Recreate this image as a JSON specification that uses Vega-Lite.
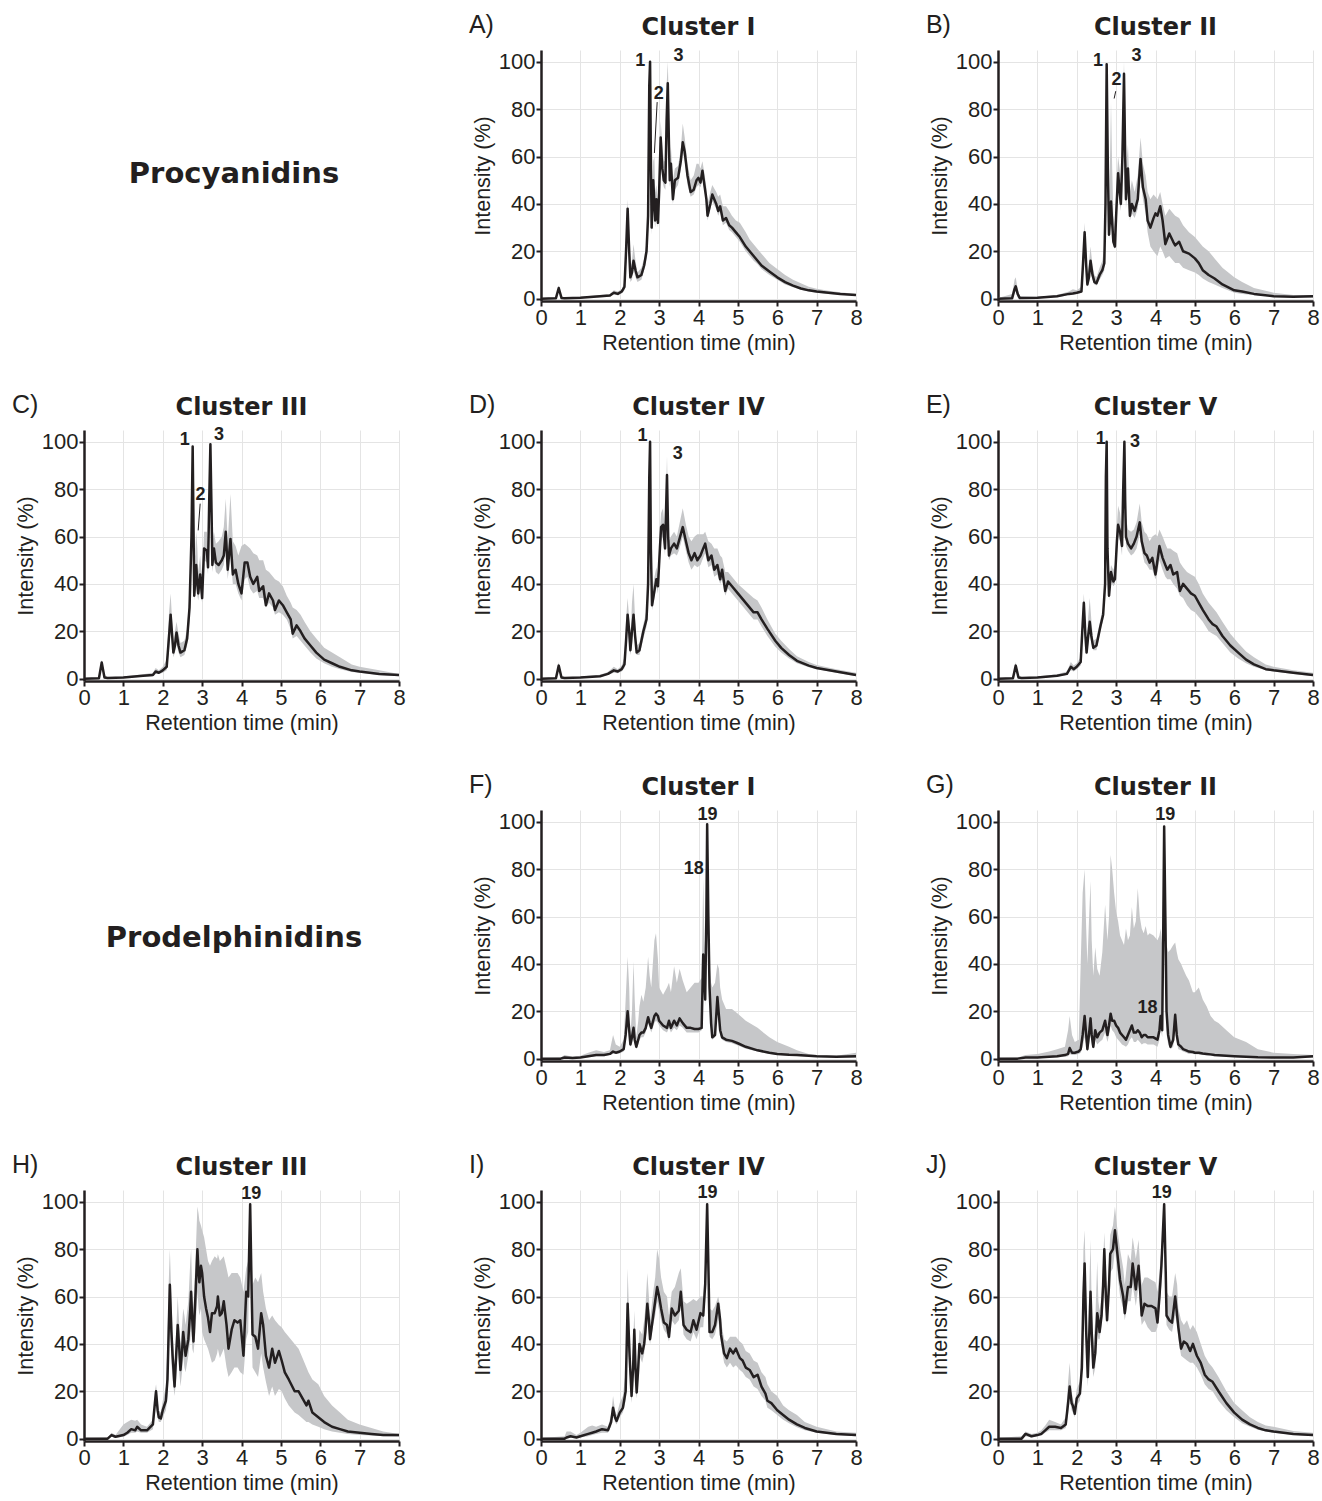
{
"$schema":"https://vega.github.io/schema/vega-lite/v6.json",
"background":"white",
"padding":{"left":11,"top":12,"right":5,"bottom":2},
"config":{
 "view":{"stroke":null},
 "axis":{"domainColor":"#231f20","domainWidth":2.5,"tickColor":"#231f20","tickWidth":2,"tickSize":5,"labelFont":"Liberation Sans","labelFontSize":22,"labelColor":"#231f20","labelPadding":1,"labelOverlap":false,"titleFont":"Liberation Sans","titleFontSize":21.5,"titleFontWeight":"normal","titleColor":"#231f20","titlePadding":4,"gridColor":"#e4e4e4","gridWidth":1},
 "axisX":{"tickCount":9,"labelOverlap":false,"labelFlush":false},
 "axisY":{"tickCount":6}
},
"datasets":{
"A":[{"t":0,"m":0,"l":0,"h":0.3},{"t":0.38,"m":0.2,"l":0,"h":0.6},{"t":0.45,"m":4.5,"l":3.5,"h":5.5},{"t":0.52,"m":0.3,"l":0,"h":1},{"t":0.6,"m":0.2,"l":0,"h":0.6},{"t":1,"m":0.4,"l":0.2,"h":0.8},{"t":1.5,"m":1,"l":0.6,"h":1.5},{"t":1.75,"m":1.3,"l":0.8,"h":2},{"t":1.85,"m":2.5,"l":1.8,"h":3.5},{"t":1.95,"m":2,"l":1.5,"h":3},{"t":2.05,"m":3,"l":2.2,"h":4},{"t":2.12,"m":5,"l":3.5,"h":7},{"t":2.16,"m":20,"l":14,"h":26},{"t":2.2,"m":38,"l":30,"h":42},{"t":2.24,"m":20,"l":15,"h":25},{"t":2.27,"m":9,"l":7,"h":12},{"t":2.31,"m":11,"l":8,"h":16},{"t":2.35,"m":16,"l":12,"h":23},{"t":2.4,"m":12,"l":9,"h":16},{"t":2.45,"m":9,"l":7,"h":11},{"t":2.55,"m":10,"l":8,"h":13},{"t":2.62,"m":14,"l":12,"h":17},{"t":2.68,"m":20,"l":17,"h":24},{"t":2.72,"m":35,"l":28,"h":45},{"t":2.75,"m":90,"l":80,"h":96},{"t":2.77,"m":100,"l":98,"h":100},{"t":2.79,"m":60,"l":45,"h":70},{"t":2.81,"m":30,"l":27,"h":40},{"t":2.85,"m":50,"l":42,"h":58},{"t":2.88,"m":40,"l":33,"h":60},{"t":2.9,"m":33,"l":30,"h":45},{"t":2.93,"m":42,"l":36,"h":48},{"t":2.97,"m":32,"l":30,"h":40},{"t":3,"m":45,"l":38,"h":55},{"t":3.04,"m":68,"l":62,"h":75},{"t":3.08,"m":55,"l":50,"h":65},{"t":3.12,"m":50,"l":47,"h":58},{"t":3.16,"m":49,"l":46,"h":58},{"t":3.19,"m":75,"l":68,"h":90},{"t":3.22,"m":91,"l":85,"h":100},{"t":3.25,"m":65,"l":58,"h":80},{"t":3.27,"m":50,"l":47,"h":58},{"t":3.3,"m":57,"l":52,"h":64},{"t":3.35,"m":42,"l":40,"h":50},{"t":3.4,"m":50,"l":46,"h":55},{"t":3.48,"m":51,"l":48,"h":56},{"t":3.55,"m":58,"l":54,"h":63},{"t":3.6,"m":66,"l":62,"h":74},{"t":3.65,"m":62,"l":58,"h":68},{"t":3.72,"m":52,"l":48,"h":57},{"t":3.8,"m":45,"l":43,"h":50},{"t":3.88,"m":46,"l":44,"h":52},{"t":3.95,"m":50,"l":47,"h":57},{"t":4,"m":51,"l":48,"h":57},{"t":4.05,"m":49,"l":47,"h":55},{"t":4.1,"m":54,"l":50,"h":58},{"t":4.15,"m":48,"l":46,"h":53},{"t":4.2,"m":42,"l":39,"h":47},{"t":4.23,"m":35,"l":33,"h":40},{"t":4.3,"m":40,"l":38,"h":45},{"t":4.35,"m":44,"l":41,"h":48},{"t":4.45,"m":40,"l":38,"h":45},{"t":4.5,"m":37,"l":35,"h":43},{"t":4.55,"m":39,"l":37,"h":44},{"t":4.62,"m":33,"l":31,"h":39},{"t":4.7,"m":34,"l":32,"h":39},{"t":4.78,"m":31,"l":29,"h":37},{"t":4.85,"m":30,"l":28,"h":35},{"t":4.95,"m":28,"l":26,"h":33},{"t":5.05,"m":26,"l":24,"h":32},{"t":5.2,"m":22,"l":20,"h":28},{"t":5.3,"m":20,"l":18,"h":25},{"t":5.4,"m":18,"l":16,"h":23},{"t":5.5,"m":16,"l":14.5,"h":21},{"t":5.6,"m":14,"l":12.5,"h":19},{"t":5.8,"m":11.5,"l":10,"h":15},{"t":6,"m":9,"l":8,"h":12.5},{"t":6.2,"m":7,"l":6,"h":10},{"t":6.4,"m":5.5,"l":4.8,"h":8},{"t":6.6,"m":4.3,"l":3.8,"h":6.5},{"t":6.8,"m":3.5,"l":3,"h":5},{"t":7,"m":3,"l":2.5,"h":4.2},{"t":7.3,"m":2.5,"l":2,"h":3.3},{"t":7.6,"m":2,"l":1.6,"h":2.7},{"t":8,"m":1.5,"l":1.2,"h":2}],
"B":[{"t":0,"m":0,"l":0,"h":0.3},{"t":0.36,"m":0.2,"l":0,"h":2},{"t":0.42,"m":4,"l":2,"h":8},{"t":0.45,"m":5.2,"l":3,"h":9},{"t":0.5,"m":2,"l":0.5,"h":4},{"t":0.55,"m":0.3,"l":0,"h":1},{"t":1,"m":0.4,"l":0.2,"h":0.8},{"t":1.5,"m":1,"l":0.6,"h":1.5},{"t":1.8,"m":2,"l":1.5,"h":3},{"t":1.9,"m":2.2,"l":1.7,"h":4},{"t":2,"m":2.5,"l":2,"h":3.5},{"t":2.12,"m":3,"l":2.5,"h":5},{"t":2.16,"m":15,"l":10,"h":20},{"t":2.2,"m":28,"l":24,"h":32},{"t":2.24,"m":14,"l":10,"h":18},{"t":2.27,"m":6,"l":5,"h":9},{"t":2.31,"m":9,"l":7,"h":15},{"t":2.35,"m":16,"l":12,"h":22},{"t":2.4,"m":10,"l":8,"h":14},{"t":2.45,"m":7,"l":6,"h":10},{"t":2.5,"m":6.5,"l":5.5,"h":9},{"t":2.58,"m":10,"l":8,"h":13},{"t":2.65,"m":12,"l":10,"h":16},{"t":2.7,"m":15,"l":12,"h":22},{"t":2.73,"m":40,"l":30,"h":55},{"t":2.76,"m":99,"l":95,"h":100},{"t":2.79,"m":55,"l":40,"h":70},{"t":2.82,"m":27,"l":25,"h":35},{"t":2.87,"m":41,"l":35,"h":83},{"t":2.9,"m":32,"l":28,"h":55},{"t":2.93,"m":24,"l":22,"h":35},{"t":2.97,"m":22,"l":21,"h":30},{"t":3,"m":35,"l":30,"h":45},{"t":3.05,"m":53,"l":48,"h":60},{"t":3.09,"m":45,"l":40,"h":55},{"t":3.12,"m":40,"l":37,"h":50},{"t":3.16,"m":60,"l":52,"h":75},{"t":3.2,"m":95,"l":88,"h":100},{"t":3.23,"m":60,"l":50,"h":75},{"t":3.25,"m":42,"l":38,"h":55},{"t":3.3,"m":55,"l":48,"h":65},{"t":3.35,"m":35,"l":33,"h":45},{"t":3.4,"m":40,"l":36,"h":50},{"t":3.47,"m":37,"l":34,"h":45},{"t":3.55,"m":42,"l":38,"h":52},{"t":3.62,"m":59,"l":52,"h":68},{"t":3.68,"m":47,"l":42,"h":57},{"t":3.75,"m":42,"l":36,"h":52},{"t":3.8,"m":33,"l":28,"h":45},{"t":3.87,"m":30,"l":22,"h":42},{"t":3.95,"m":34,"l":20,"h":44},{"t":4,"m":36,"l":19,"h":43},{"t":4.05,"m":35,"l":18,"h":42},{"t":4.12,"m":39,"l":22,"h":45},{"t":4.18,"m":33,"l":20,"h":40},{"t":4.25,"m":23,"l":17,"h":35},{"t":4.35,"m":27.5,"l":18,"h":38},{"t":4.45,"m":24,"l":16,"h":36},{"t":4.5,"m":22.5,"l":15,"h":35},{"t":4.6,"m":24,"l":15,"h":34},{"t":4.7,"m":20,"l":13,"h":31},{"t":4.85,"m":19,"l":12,"h":28},{"t":5,"m":17,"l":11,"h":26},{"t":5.1,"m":15,"l":10,"h":24},{"t":5.2,"m":12,"l":8.5,"h":22},{"t":5.35,"m":10,"l":7,"h":20},{"t":5.5,"m":8.5,"l":6,"h":17},{"t":5.7,"m":6,"l":4.5,"h":13},{"t":6,"m":3.5,"l":2.5,"h":9},{"t":6.2,"m":3,"l":2,"h":7},{"t":6.5,"m":2,"l":1.5,"h":4.5},{"t":7,"m":1,"l":0.8,"h":2.5},{"t":7.5,"m":0.8,"l":0.6,"h":1.5},{"t":8,"m":1,"l":0.5,"h":1.5}],
"C":[{"t":0,"m":0,"l":0,"h":0.3},{"t":0.38,"m":0.2,"l":0,"h":0.5},{"t":0.45,"m":6.8,"l":5,"h":8},{"t":0.52,"m":0.5,"l":0,"h":1.5},{"t":0.6,"m":0.3,"l":0,"h":0.6},{"t":1,"m":0.5,"l":0.3,"h":0.9},{"t":1.5,"m":1.2,"l":0.8,"h":1.8},{"t":1.75,"m":1.5,"l":1,"h":2.5},{"t":1.82,"m":3,"l":2,"h":4.5},{"t":1.9,"m":2.5,"l":2,"h":3.5},{"t":2,"m":3.5,"l":2.5,"h":5},{"t":2.1,"m":5,"l":3.5,"h":8},{"t":2.16,"m":18,"l":12,"h":28},{"t":2.2,"m":27,"l":20,"h":36},{"t":2.24,"m":18,"l":13,"h":24},{"t":2.27,"m":11,"l":9,"h":15},{"t":2.31,"m":14,"l":11,"h":20},{"t":2.35,"m":19.5,"l":15,"h":24},{"t":2.4,"m":14,"l":11,"h":19},{"t":2.45,"m":11,"l":9,"h":15},{"t":2.55,"m":12,"l":10,"h":16},{"t":2.62,"m":17,"l":14,"h":21},{"t":2.68,"m":30,"l":24,"h":36},{"t":2.73,"m":60,"l":50,"h":75},{"t":2.76,"m":98,"l":95,"h":100},{"t":2.79,"m":50,"l":40,"h":65},{"t":2.8,"m":35,"l":33,"h":45},{"t":2.85,"m":48,"l":40,"h":62},{"t":2.88,"m":40,"l":35,"h":55},{"t":2.9,"m":36,"l":33,"h":45},{"t":2.95,"m":44,"l":38,"h":52},{"t":3,"m":34,"l":32,"h":42},{"t":3.05,"m":55,"l":50,"h":62},{"t":3.12,"m":54,"l":49,"h":62},{"t":3.15,"m":47,"l":44,"h":55},{"t":3.18,"m":75,"l":65,"h":90},{"t":3.21,"m":99,"l":97,"h":100},{"t":3.24,"m":70,"l":55,"h":80},{"t":3.26,"m":48,"l":45,"h":58},{"t":3.3,"m":55,"l":50,"h":62},{"t":3.35,"m":49,"l":45,"h":57},{"t":3.42,"m":48,"l":44,"h":58},{"t":3.5,"m":50,"l":46,"h":60},{"t":3.55,"m":52,"l":48,"h":64},{"t":3.6,"m":62,"l":55,"h":76},{"t":3.65,"m":46,"l":42,"h":58},{"t":3.72,"m":59,"l":52,"h":78},{"t":3.78,"m":44,"l":40,"h":58},{"t":3.85,"m":46,"l":40,"h":56},{"t":3.92,"m":40,"l":36,"h":52},{"t":4,"m":36,"l":33,"h":56},{"t":4.08,"m":49,"l":42,"h":57},{"t":4.15,"m":49,"l":43,"h":56},{"t":4.22,"m":43,"l":38,"h":55},{"t":4.3,"m":40,"l":36,"h":53},{"t":4.4,"m":43,"l":37,"h":52},{"t":4.45,"m":37,"l":34,"h":50},{"t":4.55,"m":39,"l":34,"h":50},{"t":4.62,"m":31,"l":30,"h":46},{"t":4.7,"m":36,"l":32,"h":45},{"t":4.8,"m":33,"l":30,"h":43},{"t":4.85,"m":29,"l":27,"h":42},{"t":4.95,"m":33,"l":28,"h":41},{"t":5.05,"m":31,"l":27,"h":39},{"t":5.15,"m":28,"l":25,"h":35},{"t":5.25,"m":25,"l":21,"h":32},{"t":5.3,"m":19,"l":17,"h":30},{"t":5.4,"m":22.5,"l":18,"h":29},{"t":5.5,"m":20,"l":16,"h":27},{"t":5.6,"m":17,"l":14,"h":24},{"t":5.75,"m":14,"l":11,"h":20},{"t":5.9,"m":11,"l":8.5,"h":17},{"t":6.1,"m":8,"l":6.5,"h":13},{"t":6.3,"m":6.5,"l":5,"h":11},{"t":6.5,"m":5,"l":4,"h":9},{"t":6.8,"m":3.5,"l":2.8,"h":6},{"t":7,"m":3,"l":2.5,"h":5},{"t":7.5,"m":2,"l":1.5,"h":3.5},{"t":8,"m":1.5,"l":1,"h":2}],
"D":[{"t":0,"m":0,"l":0,"h":0.3},{"t":0.38,"m":0.2,"l":0,"h":0.5},{"t":0.45,"m":5.5,"l":4,"h":7},{"t":0.52,"m":0.5,"l":0,"h":1.2},{"t":0.6,"m":0.3,"l":0,"h":0.6},{"t":1,"m":0.5,"l":0.3,"h":0.9},{"t":1.5,"m":1,"l":0.7,"h":1.6},{"t":1.7,"m":2,"l":1.5,"h":2.8},{"t":1.85,"m":3.5,"l":2.5,"h":5},{"t":1.95,"m":3,"l":2.3,"h":4},{"t":2.05,"m":4,"l":3,"h":5.5},{"t":2.12,"m":6,"l":4.5,"h":9},{"t":2.16,"m":16,"l":12,"h":25},{"t":2.2,"m":27,"l":22,"h":34},{"t":2.24,"m":20,"l":14,"h":25},{"t":2.27,"m":12,"l":10,"h":16},{"t":2.31,"m":20,"l":14,"h":32},{"t":2.35,"m":27,"l":22,"h":40},{"t":2.39,"m":18,"l":14,"h":25},{"t":2.43,"m":11,"l":10,"h":14},{"t":2.5,"m":12,"l":10,"h":15},{"t":2.6,"m":20,"l":17,"h":23},{"t":2.68,"m":25,"l":22,"h":29},{"t":2.72,"m":40,"l":33,"h":48},{"t":2.75,"m":85,"l":75,"h":95},{"t":2.77,"m":100,"l":98,"h":100},{"t":2.79,"m":55,"l":45,"h":70},{"t":2.82,"m":31,"l":29,"h":36},{"t":2.87,"m":36,"l":33,"h":42},{"t":2.93,"m":42,"l":39,"h":47},{"t":2.97,"m":39,"l":36,"h":44},{"t":3.02,"m":55,"l":50,"h":62},{"t":3.05,"m":64,"l":58,"h":70},{"t":3.1,"m":65,"l":60,"h":72},{"t":3.15,"m":55,"l":52,"h":62},{"t":3.2,"m":86,"l":80,"h":94},{"t":3.23,"m":60,"l":55,"h":70},{"t":3.25,"m":52,"l":50,"h":58},{"t":3.3,"m":55,"l":52,"h":60},{"t":3.38,"m":57,"l":53,"h":62},{"t":3.45,"m":55,"l":52,"h":60},{"t":3.5,"m":58,"l":54,"h":64},{"t":3.6,"m":64,"l":60,"h":72},{"t":3.68,"m":58,"l":54,"h":65},{"t":3.75,"m":53,"l":49,"h":60},{"t":3.82,"m":50,"l":46,"h":58},{"t":3.9,"m":53,"l":48,"h":60},{"t":3.97,"m":50,"l":47,"h":61},{"t":4.05,"m":52,"l":48,"h":61},{"t":4.12,"m":55,"l":51,"h":61},{"t":4.17,"m":57,"l":53,"h":62},{"t":4.25,"m":50,"l":47,"h":58},{"t":4.33,"m":52,"l":48,"h":57},{"t":4.4,"m":46,"l":43,"h":55},{"t":4.48,"m":48,"l":44,"h":55},{"t":4.55,"m":42,"l":40,"h":52},{"t":4.6,"m":46,"l":42,"h":51},{"t":4.68,"m":37,"l":35,"h":45},{"t":4.75,"m":41,"l":38,"h":45},{"t":4.85,"m":39,"l":36,"h":43},{"t":5,"m":36,"l":33,"h":40},{"t":5.2,"m":32,"l":29,"h":37},{"t":5.4,"m":28,"l":25,"h":34},{"t":5.5,"m":28,"l":25,"h":33},{"t":5.6,"m":25,"l":22,"h":30},{"t":5.75,"m":21,"l":18,"h":25},{"t":5.95,"m":16,"l":13.5,"h":19},{"t":6.1,"m":13,"l":11,"h":16},{"t":6.3,"m":10,"l":8.5,"h":12.5},{"t":6.5,"m":7.5,"l":6.5,"h":9.5},{"t":6.8,"m":5.5,"l":4.8,"h":7},{"t":7,"m":4.5,"l":4,"h":5.8},{"t":7.5,"m":3,"l":2.5,"h":4},{"t":8,"m":1.5,"l":1,"h":2.5}],
"E":[{"t":0,"m":0,"l":0,"h":0.3},{"t":0.38,"m":0.2,"l":0,"h":0.5},{"t":0.45,"m":5.5,"l":4,"h":7},{"t":0.52,"m":0.5,"l":0,"h":1.2},{"t":0.6,"m":0.3,"l":0,"h":0.6},{"t":1,"m":0.5,"l":0.3,"h":0.9},{"t":1.5,"m":1.2,"l":0.8,"h":1.8},{"t":1.75,"m":2,"l":1.5,"h":3},{"t":1.85,"m":5,"l":3.5,"h":7},{"t":1.92,"m":4,"l":3,"h":5.5},{"t":2,"m":5,"l":4,"h":6.5},{"t":2.1,"m":7,"l":5.5,"h":9},{"t":2.14,"m":20,"l":15,"h":25},{"t":2.18,"m":32,"l":28,"h":36},{"t":2.22,"m":18,"l":14,"h":24},{"t":2.25,"m":11,"l":10,"h":14},{"t":2.29,"m":18,"l":14,"h":26},{"t":2.33,"m":24,"l":20,"h":34},{"t":2.37,"m":18,"l":15,"h":25},{"t":2.42,"m":13,"l":12,"h":16},{"t":2.5,"m":14,"l":12,"h":17},{"t":2.6,"m":22,"l":20,"h":25},{"t":2.67,"m":27,"l":25,"h":30},{"t":2.72,"m":40,"l":36,"h":45},{"t":2.74,"m":85,"l":78,"h":95},{"t":2.76,"m":100,"l":98,"h":100},{"t":2.78,"m":55,"l":45,"h":70},{"t":2.82,"m":35,"l":33,"h":40},{"t":2.87,"m":45,"l":41,"h":48},{"t":2.93,"m":41,"l":39,"h":46},{"t":2.97,"m":42,"l":40,"h":48},{"t":3.02,"m":58,"l":52,"h":65},{"t":3.05,"m":65,"l":60,"h":73},{"t":3.1,"m":62,"l":58,"h":70},{"t":3.15,"m":56,"l":52,"h":62},{"t":3.18,"m":80,"l":72,"h":90},{"t":3.21,"m":100,"l":96,"h":100},{"t":3.23,"m":75,"l":65,"h":85},{"t":3.25,"m":60,"l":56,"h":68},{"t":3.3,"m":57,"l":54,"h":63},{"t":3.38,"m":55,"l":52,"h":62},{"t":3.45,"m":57,"l":53,"h":63},{"t":3.52,"m":60,"l":55,"h":66},{"t":3.6,"m":66,"l":61,"h":74},{"t":3.65,"m":58,"l":54,"h":66},{"t":3.72,"m":53,"l":49,"h":62},{"t":3.78,"m":52,"l":48,"h":61},{"t":3.85,"m":49,"l":46,"h":58},{"t":3.92,"m":51,"l":46,"h":60},{"t":4,"m":44,"l":42,"h":61},{"t":4.05,"m":50,"l":45,"h":60},{"t":4.1,"m":56,"l":50,"h":63},{"t":4.18,"m":51,"l":46,"h":60},{"t":4.25,"m":48,"l":43,"h":57},{"t":4.3,"m":46,"l":42,"h":55},{"t":4.38,"m":48,"l":42,"h":55},{"t":4.45,"m":44,"l":40,"h":54},{"t":4.55,"m":45,"l":38,"h":53},{"t":4.62,"m":37,"l":35,"h":49},{"t":4.7,"m":40,"l":34,"h":47},{"t":4.8,"m":38,"l":31,"h":45},{"t":4.9,"m":36,"l":29,"h":44},{"t":5,"m":35,"l":28,"h":43},{"t":5.1,"m":32,"l":26,"h":40},{"t":5.2,"m":29,"l":24,"h":36},{"t":5.35,"m":25,"l":20,"h":32},{"t":5.45,"m":23,"l":19,"h":30},{"t":5.55,"m":22,"l":18,"h":28},{"t":5.7,"m":18,"l":15,"h":24},{"t":5.9,"m":14,"l":11,"h":19},{"t":6.1,"m":11,"l":8.5,"h":15},{"t":6.3,"m":8,"l":6.5,"h":11.5},{"t":6.5,"m":6,"l":5,"h":9},{"t":6.8,"m":4,"l":3.5,"h":6},{"t":7,"m":3.5,"l":3,"h":5},{"t":7.5,"m":2.5,"l":2,"h":3.5},{"t":8,"m":1.5,"l":1,"h":2.5}],
"F":[{"t":0,"m":0,"l":0,"h":0.3},{"t":0.5,"m":0,"l":0,"h":0.5},{"t":0.6,"m":0.5,"l":0.2,"h":1.5},{"t":0.8,"m":0.3,"l":0.1,"h":0.8},{"t":1,"m":0.5,"l":0.3,"h":1.2},{"t":1.2,"m":1,"l":0.6,"h":2.5},{"t":1.4,"m":1.5,"l":1,"h":3.5},{"t":1.6,"m":1.5,"l":1,"h":2.8},{"t":1.75,"m":2,"l":1.5,"h":3.5},{"t":1.83,"m":3,"l":2,"h":10},{"t":1.9,"m":2.5,"l":2,"h":6},{"t":2,"m":3,"l":2.2,"h":5},{"t":2.1,"m":4,"l":3,"h":8},{"t":2.15,"m":10,"l":7,"h":25},{"t":2.2,"m":20,"l":17,"h":43},{"t":2.24,"m":12,"l":8,"h":30},{"t":2.27,"m":6,"l":5,"h":10},{"t":2.31,"m":9,"l":6,"h":20},{"t":2.35,"m":13,"l":10,"h":41},{"t":2.38,"m":8,"l":6,"h":25},{"t":2.42,"m":5,"l":4,"h":9},{"t":2.47,"m":8,"l":6,"h":16},{"t":2.5,"m":10,"l":8,"h":22},{"t":2.55,"m":11,"l":9,"h":27},{"t":2.6,"m":11,"l":9,"h":24},{"t":2.66,"m":13,"l":11,"h":30},{"t":2.72,"m":17.5,"l":15,"h":43},{"t":2.76,"m":15,"l":13,"h":35},{"t":2.8,"m":13,"l":11,"h":30},{"t":2.88,"m":18,"l":15,"h":50},{"t":2.92,"m":19,"l":16,"h":53},{"t":2.97,"m":18,"l":15,"h":42},{"t":3,"m":16,"l":14,"h":30},{"t":3.1,"m":14,"l":12,"h":27},{"t":3.2,"m":13,"l":11,"h":30},{"t":3.25,"m":16,"l":13,"h":32},{"t":3.3,"m":13,"l":11,"h":28},{"t":3.38,"m":16,"l":13,"h":39},{"t":3.45,"m":14,"l":12,"h":32},{"t":3.52,"m":17,"l":14,"h":38},{"t":3.6,"m":15,"l":13,"h":33},{"t":3.7,"m":13,"l":11,"h":28},{"t":3.8,"m":13,"l":11,"h":30},{"t":3.9,"m":12.5,"l":11,"h":32},{"t":4,"m":12.5,"l":11,"h":32},{"t":4.08,"m":13,"l":12,"h":34},{"t":4.12,"m":44,"l":38,"h":76},{"t":4.15,"m":35,"l":28,"h":50},{"t":4.17,"m":25,"l":22,"h":45},{"t":4.2,"m":60,"l":55,"h":80},{"t":4.22,"m":99,"l":96,"h":100},{"t":4.25,"m":60,"l":50,"h":70},{"t":4.28,"m":30,"l":25,"h":40},{"t":4.32,"m":15,"l":12,"h":32},{"t":4.35,"m":9,"l":8,"h":30},{"t":4.42,"m":10,"l":9,"h":32},{"t":4.48,"m":26,"l":23,"h":40},{"t":4.52,"m":18,"l":15,"h":38},{"t":4.55,"m":12,"l":10,"h":30},{"t":4.6,"m":9,"l":8,"h":25},{"t":4.7,"m":8,"l":7,"h":21},{"t":4.85,"m":7.5,"l":6.5,"h":21},{"t":5,"m":6.5,"l":5.5,"h":19},{"t":5.2,"m":5,"l":4.2,"h":16},{"t":5.5,"m":3.5,"l":3,"h":13},{"t":5.8,"m":2.5,"l":2,"h":9},{"t":6,"m":2,"l":1.6,"h":7},{"t":6.3,"m":1.6,"l":1.2,"h":5},{"t":6.5,"m":1.5,"l":1.1,"h":3.5},{"t":6.8,"m":1.2,"l":0.9,"h":2},{"t":7,"m":1,"l":0.7,"h":1.5},{"t":7.5,"m":0.8,"l":0.5,"h":1.2},{"t":8,"m":1,"l":0.4,"h":2.5}],
"G":[{"t":0,"m":0,"l":0,"h":0.3},{"t":0.5,"m":0,"l":0,"h":0.5},{"t":0.7,"m":0.5,"l":0.2,"h":1.5},{"t":1,"m":0.5,"l":0.2,"h":2},{"t":1.3,"m":0.8,"l":0.4,"h":3},{"t":1.5,"m":1,"l":0.5,"h":4},{"t":1.7,"m":1.5,"l":0.8,"h":5},{"t":1.78,"m":2,"l":1,"h":12},{"t":1.82,"m":4.5,"l":2,"h":18},{"t":1.88,"m":2.5,"l":1.5,"h":10},{"t":1.95,"m":2.5,"l":1.5,"h":7},{"t":2.05,"m":3,"l":2,"h":8},{"t":2.1,"m":4,"l":2.5,"h":40},{"t":2.15,"m":10,"l":5,"h":70},{"t":2.2,"m":18,"l":9,"h":80},{"t":2.24,"m":10,"l":6,"h":55},{"t":2.27,"m":4,"l":3,"h":40},{"t":2.31,"m":10,"l":6,"h":58},{"t":2.35,"m":17,"l":10,"h":75},{"t":2.38,"m":10,"l":6,"h":50},{"t":2.42,"m":5,"l":4,"h":35},{"t":2.47,"m":12,"l":8,"h":47},{"t":2.52,"m":9,"l":6,"h":38},{"t":2.58,"m":11,"l":7,"h":35},{"t":2.65,"m":12,"l":8,"h":45},{"t":2.72,"m":16,"l":11,"h":65},{"t":2.78,"m":10,"l":7,"h":50},{"t":2.82,"m":14,"l":10,"h":60},{"t":2.86,"m":19,"l":14,"h":86},{"t":2.9,"m":16,"l":12,"h":80},{"t":2.95,"m":16,"l":11,"h":70},{"t":3,"m":14,"l":9,"h":62},{"t":3.05,"m":13,"l":8,"h":58},{"t":3.1,"m":11,"l":7,"h":52},{"t":3.15,"m":10,"l":6,"h":50},{"t":3.2,"m":9,"l":5.5,"h":48},{"t":3.25,"m":8,"l":5,"h":55},{"t":3.3,"m":10,"l":6,"h":50},{"t":3.35,"m":12,"l":8,"h":52},{"t":3.4,"m":14,"l":9,"h":64},{"t":3.45,"m":11,"l":7,"h":55},{"t":3.5,"m":11,"l":7,"h":58},{"t":3.55,"m":12,"l":8,"h":72},{"t":3.6,"m":11,"l":7,"h":60},{"t":3.65,"m":9,"l":6,"h":55},{"t":3.7,"m":10,"l":6.5,"h":53},{"t":3.75,"m":10,"l":6.5,"h":56},{"t":3.8,"m":9,"l":6,"h":52},{"t":3.85,"m":9,"l":6,"h":53},{"t":3.95,"m":9,"l":6,"h":52},{"t":4.05,"m":8,"l":5,"h":50},{"t":4.1,"m":12,"l":8,"h":52},{"t":4.13,"m":18,"l":13,"h":55},{"t":4.17,"m":12,"l":9,"h":48},{"t":4.2,"m":60,"l":50,"h":80},{"t":4.22,"m":98,"l":95,"h":100},{"t":4.25,"m":60,"l":45,"h":70},{"t":4.28,"m":20,"l":12,"h":48},{"t":4.32,"m":10,"l":6,"h":45},{"t":4.38,"m":5,"l":4,"h":46},{"t":4.45,"m":8,"l":5,"h":48},{"t":4.5,"m":18.5,"l":14,"h":49},{"t":4.54,"m":10,"l":7,"h":45},{"t":4.58,"m":6,"l":4,"h":42},{"t":4.65,"m":5,"l":3.5,"h":40},{"t":4.7,"m":4,"l":3,"h":38},{"t":4.78,"m":3.5,"l":2.5,"h":35},{"t":4.85,"m":3,"l":2,"h":33},{"t":4.95,"m":2.8,"l":2,"h":28},{"t":5,"m":2.5,"l":1.8,"h":28},{"t":5.1,"m":2.5,"l":1.7,"h":30},{"t":5.2,"m":2.2,"l":1.5,"h":25},{"t":5.3,"m":2,"l":1.4,"h":22},{"t":5.4,"m":1.8,"l":1.2,"h":18},{"t":5.5,"m":1.5,"l":1,"h":16},{"t":5.6,"m":1.4,"l":1,"h":15},{"t":5.8,"m":1.2,"l":0.8,"h":12},{"t":6,"m":1,"l":0.7,"h":9},{"t":6.3,"m":0.8,"l":0.5,"h":7},{"t":6.6,"m":0.6,"l":0.4,"h":4},{"t":7,"m":0.5,"l":0.3,"h":2.5},{"t":7.5,"m":0.5,"l":0.3,"h":2},{"t":8,"m":1,"l":0.4,"h":1.5}],
"H":[{"t":0,"m":0,"l":0,"h":0.3},{"t":0.6,"m":0,"l":0,"h":0.5},{"t":0.7,"m":1.5,"l":0.8,"h":2.5},{"t":0.8,"m":0.8,"l":0.3,"h":1.5},{"t":1,"m":1.5,"l":0.8,"h":6},{"t":1.1,"m":2.5,"l":1.5,"h":7},{"t":1.2,"m":4,"l":2.5,"h":8},{"t":1.3,"m":3.5,"l":2.5,"h":7.5},{"t":1.35,"m":5,"l":3,"h":8},{"t":1.45,"m":3.5,"l":2.5,"h":6},{"t":1.6,"m":3.5,"l":2.5,"h":5},{"t":1.75,"m":6,"l":4,"h":8},{"t":1.8,"m":15,"l":10,"h":20},{"t":1.83,"m":20,"l":16,"h":23},{"t":1.87,"m":12,"l":9,"h":16},{"t":1.9,"m":9,"l":7,"h":12},{"t":1.95,"m":8.5,"l":7,"h":11},{"t":2,"m":12,"l":9,"h":16},{"t":2.08,"m":16,"l":12,"h":22},{"t":2.12,"m":25,"l":18,"h":40},{"t":2.15,"m":45,"l":35,"h":65},{"t":2.18,"m":65,"l":50,"h":80},{"t":2.22,"m":45,"l":32,"h":60},{"t":2.25,"m":35,"l":25,"h":45},{"t":2.3,"m":22,"l":18,"h":30},{"t":2.34,"m":35,"l":25,"h":45},{"t":2.38,"m":48,"l":38,"h":60},{"t":2.42,"m":38,"l":28,"h":48},{"t":2.45,"m":29,"l":22,"h":40},{"t":2.49,"m":37,"l":28,"h":48},{"t":2.52,"m":45,"l":35,"h":55},{"t":2.55,"m":40,"l":30,"h":52},{"t":2.58,"m":35,"l":28,"h":48},{"t":2.65,"m":42,"l":35,"h":58},{"t":2.7,"m":55,"l":42,"h":75},{"t":2.72,"m":62,"l":48,"h":80},{"t":2.75,"m":50,"l":38,"h":62},{"t":2.78,"m":41,"l":36,"h":55},{"t":2.83,"m":60,"l":45,"h":75},{"t":2.88,"m":80,"l":62,"h":98},{"t":2.91,"m":70,"l":55,"h":95},{"t":2.93,"m":66,"l":52,"h":92},{"t":2.97,"m":73,"l":55,"h":90},{"t":3,"m":70,"l":45,"h":88},{"t":3.05,"m":60,"l":42,"h":85},{"t":3.1,"m":55,"l":40,"h":80},{"t":3.15,"m":51,"l":38,"h":75},{"t":3.2,"m":45,"l":35,"h":73},{"t":3.25,"m":53,"l":32,"h":75},{"t":3.32,"m":53,"l":33,"h":77},{"t":3.38,"m":56,"l":36,"h":76},{"t":3.4,"m":60,"l":38,"h":78},{"t":3.45,"m":52,"l":34,"h":75},{"t":3.5,"m":53,"l":36,"h":76},{"t":3.55,"m":58,"l":38,"h":77},{"t":3.62,"m":48,"l":30,"h":72},{"t":3.67,"m":38,"l":26,"h":68},{"t":3.75,"m":46,"l":28,"h":70},{"t":3.82,"m":50,"l":30,"h":70},{"t":3.9,"m":49,"l":30,"h":70},{"t":3.97,"m":50,"l":28,"h":68},{"t":4.05,"m":35,"l":27,"h":62},{"t":4.12,"m":62,"l":42,"h":72},{"t":4.17,"m":60,"l":45,"h":75},{"t":4.22,"m":99,"l":96,"h":100},{"t":4.26,"m":60,"l":45,"h":75},{"t":4.28,"m":44,"l":30,"h":65},{"t":4.35,"m":43,"l":28,"h":68},{"t":4.42,"m":38,"l":26,"h":66},{"t":4.5,"m":53,"l":36,"h":70},{"t":4.55,"m":48,"l":30,"h":62},{"t":4.62,"m":35,"l":24,"h":55},{"t":4.7,"m":30,"l":18,"h":50},{"t":4.78,"m":38,"l":22,"h":52},{"t":4.85,"m":32,"l":18,"h":50},{"t":4.95,"m":37,"l":21,"h":48},{"t":5.02,"m":33,"l":20,"h":47},{"t":5.1,"m":28,"l":17,"h":45},{"t":5.2,"m":25,"l":14,"h":43},{"t":5.35,"m":20,"l":11,"h":40},{"t":5.45,"m":20,"l":10,"h":38},{"t":5.55,"m":17,"l":8.5,"h":34},{"t":5.65,"m":14,"l":7,"h":30},{"t":5.7,"m":16,"l":7,"h":28},{"t":5.8,"m":11,"l":6,"h":25},{"t":5.95,"m":9,"l":5,"h":23},{"t":6.1,"m":7,"l":4,"h":18},{"t":6.3,"m":5,"l":3,"h":14},{"t":6.5,"m":4,"l":2.5,"h":11},{"t":6.7,"m":3,"l":2,"h":8},{"t":7,"m":2.5,"l":1.5,"h":6},{"t":7.3,"m":2,"l":1.3,"h":4.5},{"t":7.6,"m":1.5,"l":1,"h":3},{"t":8,"m":1.5,"l":0.8,"h":2}],
"I":[{"t":0,"m":0,"l":0,"h":0.3},{"t":0.6,"m":0,"l":0,"h":1},{"t":0.65,"m":0.5,"l":0,"h":3},{"t":0.75,"m":1,"l":0.5,"h":3},{"t":0.9,"m":0.5,"l":0.2,"h":1.5},{"t":1,"m":1,"l":0.5,"h":2.5},{"t":1.2,"m":2,"l":1,"h":5},{"t":1.3,"m":2.5,"l":1.5,"h":5.5},{"t":1.4,"m":3,"l":2,"h":5},{"t":1.55,"m":4,"l":2.5,"h":6},{"t":1.7,"m":3.5,"l":2.5,"h":5},{"t":1.78,"m":7,"l":5,"h":10},{"t":1.83,"m":13,"l":10,"h":18},{"t":1.88,"m":9,"l":7,"h":12},{"t":1.92,"m":7.5,"l":6,"h":10},{"t":2,"m":11,"l":9,"h":15},{"t":2.08,"m":13,"l":11,"h":18},{"t":2.15,"m":20,"l":16,"h":28},{"t":2.2,"m":57,"l":48,"h":72},{"t":2.25,"m":35,"l":28,"h":45},{"t":2.3,"m":18,"l":15,"h":24},{"t":2.34,"m":30,"l":22,"h":40},{"t":2.37,"m":46,"l":38,"h":54},{"t":2.4,"m":30,"l":22,"h":40},{"t":2.43,"m":19.5,"l":17,"h":26},{"t":2.47,"m":30,"l":25,"h":38},{"t":2.5,"m":40,"l":35,"h":46},{"t":2.57,"m":36,"l":32,"h":44},{"t":2.62,"m":40,"l":36,"h":50},{"t":2.65,"m":45,"l":40,"h":55},{"t":2.7,"m":57,"l":50,"h":70},{"t":2.74,"m":50,"l":44,"h":60},{"t":2.77,"m":42,"l":40,"h":50},{"t":2.85,"m":52,"l":48,"h":62},{"t":2.9,"m":58,"l":52,"h":68},{"t":2.95,"m":64,"l":58,"h":80},{"t":3,"m":60,"l":54,"h":76},{"t":3.05,"m":55,"l":50,"h":68},{"t":3.12,"m":49,"l":46,"h":62},{"t":3.2,"m":48,"l":44,"h":60},{"t":3.25,"m":43,"l":41,"h":52},{"t":3.32,"m":55,"l":50,"h":62},{"t":3.4,"m":52,"l":48,"h":64},{"t":3.5,"m":54,"l":50,"h":70},{"t":3.55,"m":62,"l":56,"h":72},{"t":3.62,"m":48,"l":44,"h":58},{"t":3.7,"m":46,"l":42,"h":57},{"t":3.8,"m":45,"l":41,"h":58},{"t":3.87,"m":50,"l":45,"h":59},{"t":3.95,"m":46,"l":42,"h":58},{"t":4.05,"m":53,"l":47,"h":60},{"t":4.12,"m":52,"l":47,"h":60},{"t":4.17,"m":65,"l":58,"h":75},{"t":4.22,"m":99,"l":96,"h":100},{"t":4.26,"m":65,"l":50,"h":75},{"t":4.28,"m":45,"l":43,"h":55},{"t":4.35,"m":45,"l":42,"h":54},{"t":4.42,"m":48,"l":44,"h":56},{"t":4.5,"m":57,"l":50,"h":60},{"t":4.55,"m":50,"l":45,"h":56},{"t":4.57,"m":44,"l":40,"h":50},{"t":4.65,"m":36,"l":32,"h":42},{"t":4.72,"m":34,"l":30,"h":41},{"t":4.8,"m":38,"l":32,"h":43},{"t":4.88,"m":36,"l":30,"h":43},{"t":4.95,"m":38,"l":31,"h":43},{"t":5.05,"m":34,"l":29,"h":41},{"t":5.12,"m":33,"l":28,"h":40},{"t":5.2,"m":30,"l":26,"h":37},{"t":5.3,"m":29,"l":25,"h":36},{"t":5.4,"m":26,"l":22,"h":33},{"t":5.5,"m":27,"l":21,"h":32},{"t":5.6,"m":22,"l":18,"h":28},{"t":5.7,"m":19,"l":16,"h":26},{"t":5.75,"m":16,"l":13,"h":23},{"t":5.85,"m":15,"l":12,"h":20},{"t":6,"m":12,"l":10,"h":18},{"t":6.15,"m":10,"l":8,"h":14},{"t":6.3,"m":8,"l":6.5,"h":12},{"t":6.5,"m":6,"l":4.8,"h":10},{"t":6.7,"m":4.5,"l":3.5,"h":7},{"t":7,"m":3,"l":2.5,"h":5},{"t":7.5,"m":2,"l":1.5,"h":3},{"t":8,"m":1.5,"l":1,"h":2.5}],
"J":[{"t":0,"m":0,"l":0,"h":0.3},{"t":0.6,"m":0,"l":0,"h":1},{"t":0.7,"m":2,"l":1,"h":3},{"t":0.85,"m":1,"l":0.5,"h":2},{"t":1,"m":1.5,"l":1,"h":2.5},{"t":1.1,"m":2,"l":1.2,"h":3.5},{"t":1.2,"m":3.5,"l":2.5,"h":5.5},{"t":1.3,"m":5,"l":3.5,"h":8},{"t":1.45,"m":5,"l":3.5,"h":7},{"t":1.6,"m":4.5,"l":3.5,"h":6},{"t":1.72,"m":6,"l":4.5,"h":9},{"t":1.78,"m":15,"l":10,"h":24},{"t":1.82,"m":22,"l":17,"h":32},{"t":1.87,"m":15,"l":12,"h":20},{"t":1.9,"m":14,"l":11,"h":17},{"t":1.95,"m":10.5,"l":9,"h":14},{"t":2,"m":17,"l":14,"h":21},{"t":2.08,"m":19,"l":16,"h":24},{"t":2.13,"m":30,"l":25,"h":45},{"t":2.17,"m":60,"l":50,"h":80},{"t":2.2,"m":74,"l":65,"h":88},{"t":2.24,"m":45,"l":35,"h":60},{"t":2.28,"m":26,"l":22,"h":32},{"t":2.32,"m":45,"l":35,"h":65},{"t":2.35,"m":62,"l":52,"h":84},{"t":2.38,"m":45,"l":35,"h":55},{"t":2.42,"m":30,"l":26,"h":40},{"t":2.47,"m":36,"l":30,"h":50},{"t":2.52,"m":53,"l":45,"h":75},{"t":2.55,"m":50,"l":42,"h":58},{"t":2.58,"m":45,"l":42,"h":54},{"t":2.63,"m":52,"l":48,"h":60},{"t":2.67,"m":65,"l":55,"h":75},{"t":2.7,"m":80,"l":70,"h":87},{"t":2.74,"m":60,"l":55,"h":70},{"t":2.77,"m":50,"l":48,"h":58},{"t":2.82,"m":65,"l":60,"h":75},{"t":2.85,"m":78,"l":70,"h":86},{"t":2.92,"m":80,"l":72,"h":90},{"t":2.97,"m":88,"l":80,"h":98},{"t":3.02,"m":80,"l":72,"h":90},{"t":3.1,"m":67,"l":60,"h":80},{"t":3.18,"m":60,"l":55,"h":72},{"t":3.22,"m":53,"l":50,"h":65},{"t":3.3,"m":64,"l":58,"h":78},{"t":3.37,"m":64,"l":58,"h":75},{"t":3.42,"m":74,"l":65,"h":85},{"t":3.5,"m":63,"l":56,"h":76},{"t":3.57,"m":73,"l":65,"h":84},{"t":3.62,"m":60,"l":52,"h":70},{"t":3.65,"m":52,"l":48,"h":65},{"t":3.72,"m":57,"l":50,"h":68},{"t":3.8,"m":56,"l":47,"h":68},{"t":3.9,"m":56,"l":45,"h":67},{"t":4,"m":55,"l":45,"h":66},{"t":4.05,"m":49,"l":47,"h":62},{"t":4.1,"m":60,"l":55,"h":70},{"t":4.15,"m":73,"l":65,"h":80},{"t":4.22,"m":99,"l":96,"h":100},{"t":4.26,"m":70,"l":60,"h":80},{"t":4.28,"m":52,"l":48,"h":62},{"t":4.35,"m":50,"l":46,"h":60},{"t":4.42,"m":49,"l":45,"h":60},{"t":4.5,"m":60,"l":52,"h":70},{"t":4.55,"m":52,"l":48,"h":65},{"t":4.58,"m":47,"l":42,"h":55},{"t":4.65,"m":38,"l":35,"h":50},{"t":4.72,"m":41,"l":34,"h":48},{"t":4.8,"m":40,"l":33,"h":50},{"t":4.88,"m":37,"l":32,"h":46},{"t":4.95,"m":40,"l":32,"h":48},{"t":5.05,"m":35,"l":30,"h":45},{"t":5.15,"m":32,"l":27,"h":40},{"t":5.25,"m":27,"l":23,"h":35},{"t":5.35,"m":25,"l":21,"h":32},{"t":5.45,"m":24,"l":20,"h":30},{"t":5.6,"m":20,"l":16,"h":26},{"t":5.8,"m":15,"l":12,"h":20},{"t":6,"m":11,"l":9,"h":15},{"t":6.2,"m":8,"l":6.5,"h":12},{"t":6.4,"m":6,"l":5,"h":9},{"t":6.6,"m":4.5,"l":3.8,"h":7},{"t":6.8,"m":3.5,"l":3,"h":5.5},{"t":7,"m":3,"l":2.5,"h":5},{"t":7.5,"m":2,"l":1.6,"h":3.2},{"t":8,"m":1.5,"l":1,"h":2.5}]
},
"columns":3,
"bounds":"flush",
"spacing":{"row":129,"column":142},
"concat":[
 {"width":315,"height":251,"data":{"values":[{"s":"Procyanidins"}]},"mark":{"type":"text","font":"DejaVu Sans","fontWeight":"bold","fontSize":29,"color":"#231f20","baseline":"middle"},"encoding":{"x":{"datum":3.81,"type":"quantitative","scale":{"domain":[0,8]},"axis":null},"y":{"datum":52.6,"type":"quantitative","scale":{"domain":[-1,105]},"axis":null},"text":{"field":"s"}}},
 {"width":315,"height":251,"data":{"name":"A"},"layer":[
  {"mark":{"type":"area","color":"#c6c7c9"},"encoding":{"x":{"field":"t","type":"quantitative","scale":{"domain":[0,8],"nice":false},"axis":{"values":[0,1,2,3,4,5,6,7,8],"labelOverlap":false},"title":"Retention time (min)"},"y":{"field":"l","type":"quantitative","scale":{"domain":[-1,105],"nice":false},"axis":{"values":[0,20,40,60,80,100]},"title":"Intensity (%)"},"y2":{"field":"h"}}},
  {"mark":{"type":"line","color":"#231f20","strokeWidth":2.5,"strokeJoin":"round"},"encoding":{"x":{"field":"t","type":"quantitative","title":"Retention time (min)"},"y":{"field":"m","type":"quantitative","title":"Intensity (%)"}}},
  {"data":{"values":[{"t":2.95,"y":83,"t2":2.88,"y2":61.5}]},"mark":{"type":"rule","color":"#231f20","strokeWidth":1},"encoding":{"x":{"field":"t","type":"quantitative","title":"Retention time (min)"},"y":{"field":"y","type":"quantitative","title":"Intensity (%)"},"x2":{"field":"t2"},"y2":{"field":"y2"}}},
  {"data":{"values":[{"t":2.52,"y":100.3,"s":"1"},{"t":2.99,"y":86.5,"s":"2"},{"t":3.49,"y":102.4,"s":"3"}]},"mark":{"type":"text","font":"Liberation Sans","fontWeight":"bold","fontSize":18,"color":"#231f20","baseline":"middle"},"encoding":{"x":{"field":"t","type":"quantitative","title":"Retention time (min)"},"y":{"field":"y","type":"quantitative","title":"Intensity (%)"},"text":{"field":"s"}}},
  {"data":{"values":[{"s":"A)"}]},"mark":{"type":"text","align":"left","baseline":"alphabetic","font":"Liberation Sans","fontSize":25,"color":"#231f20"},"encoding":{"x":{"datum":-1.83,"type":"quantitative","scale":{"domain":[0,8],"nice":false},"title":"Retention time (min)"},"y":{"datum":112.2,"type":"quantitative","scale":{"domain":[-1,105],"nice":false},"title":"Intensity (%)"},"text":{"field":"s"}}},
  {"data":{"values":[{"s":"Cluster I"}]},"mark":{"type":"text","align":"center","baseline":"alphabetic","font":"DejaVu Sans","fontWeight":"bold","fontSize":24,"color":"#231f20"},"encoding":{"x":{"datum":4,"type":"quantitative","scale":{"domain":[0,8],"nice":false},"title":"Retention time (min)"},"y":{"datum":111.5,"type":"quantitative","scale":{"domain":[-1,105],"nice":false},"title":"Intensity (%)"},"text":{"field":"s"}}}
 ]},
 {"width":315,"height":251,"data":{"name":"B"},"layer":[
  {"mark":{"type":"area","color":"#c6c7c9"},"encoding":{"x":{"field":"t","type":"quantitative","scale":{"domain":[0,8],"nice":false},"axis":{"values":[0,1,2,3,4,5,6,7,8],"labelOverlap":false},"title":"Retention time (min)"},"y":{"field":"l","type":"quantitative","scale":{"domain":[-1,105],"nice":false},"axis":{"values":[0,20,40,60,80,100]},"title":"Intensity (%)"},"y2":{"field":"h"}}},
  {"mark":{"type":"line","color":"#231f20","strokeWidth":2.5,"strokeJoin":"round"},"encoding":{"x":{"field":"t","type":"quantitative","title":"Retention time (min)"},"y":{"field":"m","type":"quantitative","title":"Intensity (%)"}}},
  {"data":{"values":[{"t":2.99,"y":87.6,"t2":2.95,"y2":84.5}]},"mark":{"type":"rule","color":"#231f20","strokeWidth":1},"encoding":{"x":{"field":"t","type":"quantitative","title":"Retention time (min)"},"y":{"field":"y","type":"quantitative","title":"Intensity (%)"},"x2":{"field":"t2"},"y2":{"field":"y2"}}},
  {"data":{"values":[{"t":2.54,"y":100.3,"s":"1"},{"t":3.01,"y":92.5,"s":"2"},{"t":3.52,"y":102.4,"s":"3"}]},"mark":{"type":"text","font":"Liberation Sans","fontWeight":"bold","fontSize":18,"color":"#231f20","baseline":"middle"},"encoding":{"x":{"field":"t","type":"quantitative","title":"Retention time (min)"},"y":{"field":"y","type":"quantitative","title":"Intensity (%)"},"text":{"field":"s"}}},
  {"data":{"values":[{"s":"B)"}]},"mark":{"type":"text","align":"left","baseline":"alphabetic","font":"Liberation Sans","fontSize":25,"color":"#231f20"},"encoding":{"x":{"datum":-1.83,"type":"quantitative","scale":{"domain":[0,8],"nice":false},"title":"Retention time (min)"},"y":{"datum":112.2,"type":"quantitative","scale":{"domain":[-1,105],"nice":false},"title":"Intensity (%)"},"text":{"field":"s"}}},
  {"data":{"values":[{"s":"Cluster II"}]},"mark":{"type":"text","align":"center","baseline":"alphabetic","font":"DejaVu Sans","fontWeight":"bold","fontSize":24,"color":"#231f20"},"encoding":{"x":{"datum":4,"type":"quantitative","scale":{"domain":[0,8],"nice":false},"title":"Retention time (min)"},"y":{"datum":111.5,"type":"quantitative","scale":{"domain":[-1,105],"nice":false},"title":"Intensity (%)"},"text":{"field":"s"}}}
 ]},
 {"width":315,"height":251,"data":{"name":"C"},"layer":[
  {"mark":{"type":"area","color":"#c6c7c9"},"encoding":{"x":{"field":"t","type":"quantitative","scale":{"domain":[0,8],"nice":false},"axis":{"values":[0,1,2,3,4,5,6,7,8],"labelOverlap":false},"title":"Retention time (min)"},"y":{"field":"l","type":"quantitative","scale":{"domain":[-1,105],"nice":false},"axis":{"values":[0,20,40,60,80,100]},"title":"Intensity (%)"},"y2":{"field":"h"}}},
  {"mark":{"type":"line","color":"#231f20","strokeWidth":2.5,"strokeJoin":"round"},"encoding":{"x":{"field":"t","type":"quantitative","title":"Retention time (min)"},"y":{"field":"m","type":"quantitative","title":"Intensity (%)"}}},
  {"data":{"values":[{"t":2.95,"y":73.9,"t2":2.9,"y2":62.6}]},"mark":{"type":"rule","color":"#231f20","strokeWidth":1},"encoding":{"x":{"field":"t","type":"quantitative","title":"Retention time (min)"},"y":{"field":"y","type":"quantitative","title":"Intensity (%)"},"x2":{"field":"t2"},"y2":{"field":"y2"}}},
  {"data":{"values":[{"t":2.56,"y":100.7,"s":"1"},{"t":2.96,"y":77.4,"s":"2"},{"t":3.43,"y":102.8,"s":"3"}]},"mark":{"type":"text","font":"Liberation Sans","fontWeight":"bold","fontSize":18,"color":"#231f20","baseline":"middle"},"encoding":{"x":{"field":"t","type":"quantitative","title":"Retention time (min)"},"y":{"field":"y","type":"quantitative","title":"Intensity (%)"},"text":{"field":"s"}}},
  {"data":{"values":[{"s":"C)"}]},"mark":{"type":"text","align":"left","baseline":"alphabetic","font":"Liberation Sans","fontSize":25,"color":"#231f20"},"encoding":{"x":{"datum":-1.83,"type":"quantitative","scale":{"domain":[0,8],"nice":false},"title":"Retention time (min)"},"y":{"datum":112.2,"type":"quantitative","scale":{"domain":[-1,105],"nice":false},"title":"Intensity (%)"},"text":{"field":"s"}}},
  {"data":{"values":[{"s":"Cluster III"}]},"mark":{"type":"text","align":"center","baseline":"alphabetic","font":"DejaVu Sans","fontWeight":"bold","fontSize":24,"color":"#231f20"},"encoding":{"x":{"datum":4,"type":"quantitative","scale":{"domain":[0,8],"nice":false},"title":"Retention time (min)"},"y":{"datum":111.5,"type":"quantitative","scale":{"domain":[-1,105],"nice":false},"title":"Intensity (%)"},"text":{"field":"s"}}}
 ]},
 {"width":315,"height":251,"data":{"name":"D"},"layer":[
  {"mark":{"type":"area","color":"#c6c7c9"},"encoding":{"x":{"field":"t","type":"quantitative","scale":{"domain":[0,8],"nice":false},"axis":{"values":[0,1,2,3,4,5,6,7,8],"labelOverlap":false},"title":"Retention time (min)"},"y":{"field":"l","type":"quantitative","scale":{"domain":[-1,105],"nice":false},"axis":{"values":[0,20,40,60,80,100]},"title":"Intensity (%)"},"y2":{"field":"h"}}},
  {"mark":{"type":"line","color":"#231f20","strokeWidth":2.5,"strokeJoin":"round"},"encoding":{"x":{"field":"t","type":"quantitative","title":"Retention time (min)"},"y":{"field":"m","type":"quantitative","title":"Intensity (%)"}}},
  {"data":{"values":[{"t":2.58,"y":102.4,"s":"1"},{"t":3.47,"y":95,"s":"3"}]},"mark":{"type":"text","font":"Liberation Sans","fontWeight":"bold","fontSize":18,"color":"#231f20","baseline":"middle"},"encoding":{"x":{"field":"t","type":"quantitative","title":"Retention time (min)"},"y":{"field":"y","type":"quantitative","title":"Intensity (%)"},"text":{"field":"s"}}},
  {"data":{"values":[{"s":"D)"}]},"mark":{"type":"text","align":"left","baseline":"alphabetic","font":"Liberation Sans","fontSize":25,"color":"#231f20"},"encoding":{"x":{"datum":-1.83,"type":"quantitative","scale":{"domain":[0,8],"nice":false},"title":"Retention time (min)"},"y":{"datum":112.2,"type":"quantitative","scale":{"domain":[-1,105],"nice":false},"title":"Intensity (%)"},"text":{"field":"s"}}},
  {"data":{"values":[{"s":"Cluster IV"}]},"mark":{"type":"text","align":"center","baseline":"alphabetic","font":"DejaVu Sans","fontWeight":"bold","fontSize":24,"color":"#231f20"},"encoding":{"x":{"datum":4,"type":"quantitative","scale":{"domain":[0,8],"nice":false},"title":"Retention time (min)"},"y":{"datum":111.5,"type":"quantitative","scale":{"domain":[-1,105],"nice":false},"title":"Intensity (%)"},"text":{"field":"s"}}}
 ]},
 {"width":315,"height":251,"data":{"name":"E"},"layer":[
  {"mark":{"type":"area","color":"#c6c7c9"},"encoding":{"x":{"field":"t","type":"quantitative","scale":{"domain":[0,8],"nice":false},"axis":{"values":[0,1,2,3,4,5,6,7,8],"labelOverlap":false},"title":"Retention time (min)"},"y":{"field":"l","type":"quantitative","scale":{"domain":[-1,105],"nice":false},"axis":{"values":[0,20,40,60,80,100]},"title":"Intensity (%)"},"y2":{"field":"h"}}},
  {"mark":{"type":"line","color":"#231f20","strokeWidth":2.5,"strokeJoin":"round"},"encoding":{"x":{"field":"t","type":"quantitative","title":"Retention time (min)"},"y":{"field":"m","type":"quantitative","title":"Intensity (%)"}}},
  {"data":{"values":[{"t":2.61,"y":101.4,"s":"1"},{"t":3.48,"y":100,"s":"3"}]},"mark":{"type":"text","font":"Liberation Sans","fontWeight":"bold","fontSize":18,"color":"#231f20","baseline":"middle"},"encoding":{"x":{"field":"t","type":"quantitative","title":"Retention time (min)"},"y":{"field":"y","type":"quantitative","title":"Intensity (%)"},"text":{"field":"s"}}},
  {"data":{"values":[{"s":"E)"}]},"mark":{"type":"text","align":"left","baseline":"alphabetic","font":"Liberation Sans","fontSize":25,"color":"#231f20"},"encoding":{"x":{"datum":-1.83,"type":"quantitative","scale":{"domain":[0,8],"nice":false},"title":"Retention time (min)"},"y":{"datum":112.2,"type":"quantitative","scale":{"domain":[-1,105],"nice":false},"title":"Intensity (%)"},"text":{"field":"s"}}},
  {"data":{"values":[{"s":"Cluster V"}]},"mark":{"type":"text","align":"center","baseline":"alphabetic","font":"DejaVu Sans","fontWeight":"bold","fontSize":24,"color":"#231f20"},"encoding":{"x":{"datum":4,"type":"quantitative","scale":{"domain":[0,8],"nice":false},"title":"Retention time (min)"},"y":{"datum":111.5,"type":"quantitative","scale":{"domain":[-1,105],"nice":false},"title":"Intensity (%)"},"text":{"field":"s"}}}
 ]},
 {"width":315,"height":251,"data":{"values":[{"s":"Prodelphinidins"}]},"mark":{"type":"text","font":"DejaVu Sans","fontWeight":"bold","fontSize":29,"color":"#231f20","baseline":"middle"},"encoding":{"x":{"datum":3.81,"type":"quantitative","scale":{"domain":[0,8]},"axis":null},"y":{"datum":51,"type":"quantitative","scale":{"domain":[-1,105]},"axis":null},"text":{"field":"s"}}},
 {"width":315,"height":251,"data":{"name":"F"},"layer":[
  {"mark":{"type":"area","color":"#c6c7c9"},"encoding":{"x":{"field":"t","type":"quantitative","scale":{"domain":[0,8],"nice":false},"axis":{"values":[0,1,2,3,4,5,6,7,8],"labelOverlap":false},"title":"Retention time (min)"},"y":{"field":"l","type":"quantitative","scale":{"domain":[-1,105],"nice":false},"axis":{"values":[0,20,40,60,80,100]},"title":"Intensity (%)"},"y2":{"field":"h"}}},
  {"mark":{"type":"line","color":"#231f20","strokeWidth":2.5,"strokeJoin":"round"},"encoding":{"x":{"field":"t","type":"quantitative","title":"Retention time (min)"},"y":{"field":"m","type":"quantitative","title":"Intensity (%)"}}},
  {"data":{"values":[{"t":4.23,"y":102.8,"s":"19"},{"t":3.88,"y":79.9,"s":"18"}]},"mark":{"type":"text","font":"Liberation Sans","fontWeight":"bold","fontSize":18,"color":"#231f20","baseline":"middle"},"encoding":{"x":{"field":"t","type":"quantitative","title":"Retention time (min)"},"y":{"field":"y","type":"quantitative","title":"Intensity (%)"},"text":{"field":"s"}}},
  {"data":{"values":[{"s":"F)"}]},"mark":{"type":"text","align":"left","baseline":"alphabetic","font":"Liberation Sans","fontSize":25,"color":"#231f20"},"encoding":{"x":{"datum":-1.83,"type":"quantitative","scale":{"domain":[0,8],"nice":false},"title":"Retention time (min)"},"y":{"datum":112.2,"type":"quantitative","scale":{"domain":[-1,105],"nice":false},"title":"Intensity (%)"},"text":{"field":"s"}}},
  {"data":{"values":[{"s":"Cluster I"}]},"mark":{"type":"text","align":"center","baseline":"alphabetic","font":"DejaVu Sans","fontWeight":"bold","fontSize":24,"color":"#231f20"},"encoding":{"x":{"datum":4,"type":"quantitative","scale":{"domain":[0,8],"nice":false},"title":"Retention time (min)"},"y":{"datum":111.5,"type":"quantitative","scale":{"domain":[-1,105],"nice":false},"title":"Intensity (%)"},"text":{"field":"s"}}}
 ]},
 {"width":315,"height":251,"data":{"name":"G"},"layer":[
  {"mark":{"type":"area","color":"#c6c7c9"},"encoding":{"x":{"field":"t","type":"quantitative","scale":{"domain":[0,8],"nice":false},"axis":{"values":[0,1,2,3,4,5,6,7,8],"labelOverlap":false},"title":"Retention time (min)"},"y":{"field":"l","type":"quantitative","scale":{"domain":[-1,105],"nice":false},"axis":{"values":[0,20,40,60,80,100]},"title":"Intensity (%)"},"y2":{"field":"h"}}},
  {"mark":{"type":"line","color":"#231f20","strokeWidth":2.5,"strokeJoin":"round"},"encoding":{"x":{"field":"t","type":"quantitative","title":"Retention time (min)"},"y":{"field":"m","type":"quantitative","title":"Intensity (%)"}}},
  {"data":{"values":[{"t":4.25,"y":103,"s":"19"},{"t":3.8,"y":21.4,"s":"18"}]},"mark":{"type":"text","font":"Liberation Sans","fontWeight":"bold","fontSize":18,"color":"#231f20","baseline":"middle"},"encoding":{"x":{"field":"t","type":"quantitative","title":"Retention time (min)"},"y":{"field":"y","type":"quantitative","title":"Intensity (%)"},"text":{"field":"s"}}},
  {"data":{"values":[{"s":"G)"}]},"mark":{"type":"text","align":"left","baseline":"alphabetic","font":"Liberation Sans","fontSize":25,"color":"#231f20"},"encoding":{"x":{"datum":-1.83,"type":"quantitative","scale":{"domain":[0,8],"nice":false},"title":"Retention time (min)"},"y":{"datum":112.2,"type":"quantitative","scale":{"domain":[-1,105],"nice":false},"title":"Intensity (%)"},"text":{"field":"s"}}},
  {"data":{"values":[{"s":"Cluster II"}]},"mark":{"type":"text","align":"center","baseline":"alphabetic","font":"DejaVu Sans","fontWeight":"bold","fontSize":24,"color":"#231f20"},"encoding":{"x":{"datum":4,"type":"quantitative","scale":{"domain":[0,8],"nice":false},"title":"Retention time (min)"},"y":{"datum":111.5,"type":"quantitative","scale":{"domain":[-1,105],"nice":false},"title":"Intensity (%)"},"text":{"field":"s"}}}
 ]},
 {"width":315,"height":251,"data":{"name":"H"},"layer":[
  {"mark":{"type":"area","color":"#c6c7c9"},"encoding":{"x":{"field":"t","type":"quantitative","scale":{"domain":[0,8],"nice":false},"axis":{"values":[0,1,2,3,4,5,6,7,8],"labelOverlap":false},"title":"Retention time (min)"},"y":{"field":"l","type":"quantitative","scale":{"domain":[-1,105],"nice":false},"axis":{"values":[0,20,40,60,80,100]},"title":"Intensity (%)"},"y2":{"field":"h"}}},
  {"mark":{"type":"line","color":"#231f20","strokeWidth":2.5,"strokeJoin":"round"},"encoding":{"x":{"field":"t","type":"quantitative","title":"Retention time (min)"},"y":{"field":"m","type":"quantitative","title":"Intensity (%)"}}},
  {"data":{"values":[{"t":4.25,"y":103.5,"s":"19"}]},"mark":{"type":"text","font":"Liberation Sans","fontWeight":"bold","fontSize":18,"color":"#231f20","baseline":"middle"},"encoding":{"x":{"field":"t","type":"quantitative","title":"Retention time (min)"},"y":{"field":"y","type":"quantitative","title":"Intensity (%)"},"text":{"field":"s"}}},
  {"data":{"values":[{"s":"H)"}]},"mark":{"type":"text","align":"left","baseline":"alphabetic","font":"Liberation Sans","fontSize":25,"color":"#231f20"},"encoding":{"x":{"datum":-1.83,"type":"quantitative","scale":{"domain":[0,8],"nice":false},"title":"Retention time (min)"},"y":{"datum":112.2,"type":"quantitative","scale":{"domain":[-1,105],"nice":false},"title":"Intensity (%)"},"text":{"field":"s"}}},
  {"data":{"values":[{"s":"Cluster III"}]},"mark":{"type":"text","align":"center","baseline":"alphabetic","font":"DejaVu Sans","fontWeight":"bold","fontSize":24,"color":"#231f20"},"encoding":{"x":{"datum":4,"type":"quantitative","scale":{"domain":[0,8],"nice":false},"title":"Retention time (min)"},"y":{"datum":111.5,"type":"quantitative","scale":{"domain":[-1,105],"nice":false},"title":"Intensity (%)"},"text":{"field":"s"}}}
 ]},
 {"width":315,"height":251,"data":{"name":"I"},"layer":[
  {"mark":{"type":"area","color":"#c6c7c9"},"encoding":{"x":{"field":"t","type":"quantitative","scale":{"domain":[0,8],"nice":false},"axis":{"values":[0,1,2,3,4,5,6,7,8],"labelOverlap":false},"title":"Retention time (min)"},"y":{"field":"l","type":"quantitative","scale":{"domain":[-1,105],"nice":false},"axis":{"values":[0,20,40,60,80,100]},"title":"Intensity (%)"},"y2":{"field":"h"}}},
  {"mark":{"type":"line","color":"#231f20","strokeWidth":2.5,"strokeJoin":"round"},"encoding":{"x":{"field":"t","type":"quantitative","title":"Retention time (min)"},"y":{"field":"m","type":"quantitative","title":"Intensity (%)"}}},
  {"data":{"values":[{"t":4.23,"y":103.8,"s":"19"}]},"mark":{"type":"text","font":"Liberation Sans","fontWeight":"bold","fontSize":18,"color":"#231f20","baseline":"middle"},"encoding":{"x":{"field":"t","type":"quantitative","title":"Retention time (min)"},"y":{"field":"y","type":"quantitative","title":"Intensity (%)"},"text":{"field":"s"}}},
  {"data":{"values":[{"s":"I)"}]},"mark":{"type":"text","align":"left","baseline":"alphabetic","font":"Liberation Sans","fontSize":25,"color":"#231f20"},"encoding":{"x":{"datum":-1.83,"type":"quantitative","scale":{"domain":[0,8],"nice":false},"title":"Retention time (min)"},"y":{"datum":112.2,"type":"quantitative","scale":{"domain":[-1,105],"nice":false},"title":"Intensity (%)"},"text":{"field":"s"}}},
  {"data":{"values":[{"s":"Cluster IV"}]},"mark":{"type":"text","align":"center","baseline":"alphabetic","font":"DejaVu Sans","fontWeight":"bold","fontSize":24,"color":"#231f20"},"encoding":{"x":{"datum":4,"type":"quantitative","scale":{"domain":[0,8],"nice":false},"title":"Retention time (min)"},"y":{"datum":111.5,"type":"quantitative","scale":{"domain":[-1,105],"nice":false},"title":"Intensity (%)"},"text":{"field":"s"}}}
 ]},
 {"width":315,"height":251,"data":{"name":"J"},"layer":[
  {"mark":{"type":"area","color":"#c6c7c9"},"encoding":{"x":{"field":"t","type":"quantitative","scale":{"domain":[0,8],"nice":false},"axis":{"values":[0,1,2,3,4,5,6,7,8],"labelOverlap":false},"title":"Retention time (min)"},"y":{"field":"l","type":"quantitative","scale":{"domain":[-1,105],"nice":false},"axis":{"values":[0,20,40,60,80,100]},"title":"Intensity (%)"},"y2":{"field":"h"}}},
  {"mark":{"type":"line","color":"#231f20","strokeWidth":2.5,"strokeJoin":"round"},"encoding":{"x":{"field":"t","type":"quantitative","title":"Retention time (min)"},"y":{"field":"m","type":"quantitative","title":"Intensity (%)"}}},
  {"data":{"values":[{"t":4.16,"y":103.8,"s":"19"}]},"mark":{"type":"text","font":"Liberation Sans","fontWeight":"bold","fontSize":18,"color":"#231f20","baseline":"middle"},"encoding":{"x":{"field":"t","type":"quantitative","title":"Retention time (min)"},"y":{"field":"y","type":"quantitative","title":"Intensity (%)"},"text":{"field":"s"}}},
  {"data":{"values":[{"s":"J)"}]},"mark":{"type":"text","align":"left","baseline":"alphabetic","font":"Liberation Sans","fontSize":25,"color":"#231f20"},"encoding":{"x":{"datum":-1.83,"type":"quantitative","scale":{"domain":[0,8],"nice":false},"title":"Retention time (min)"},"y":{"datum":112.2,"type":"quantitative","scale":{"domain":[-1,105],"nice":false},"title":"Intensity (%)"},"text":{"field":"s"}}},
  {"data":{"values":[{"s":"Cluster V"}]},"mark":{"type":"text","align":"center","baseline":"alphabetic","font":"DejaVu Sans","fontWeight":"bold","fontSize":24,"color":"#231f20"},"encoding":{"x":{"datum":4,"type":"quantitative","scale":{"domain":[0,8],"nice":false},"title":"Retention time (min)"},"y":{"datum":111.5,"type":"quantitative","scale":{"domain":[-1,105],"nice":false},"title":"Intensity (%)"},"text":{"field":"s"}}}
 ]}
]
}
